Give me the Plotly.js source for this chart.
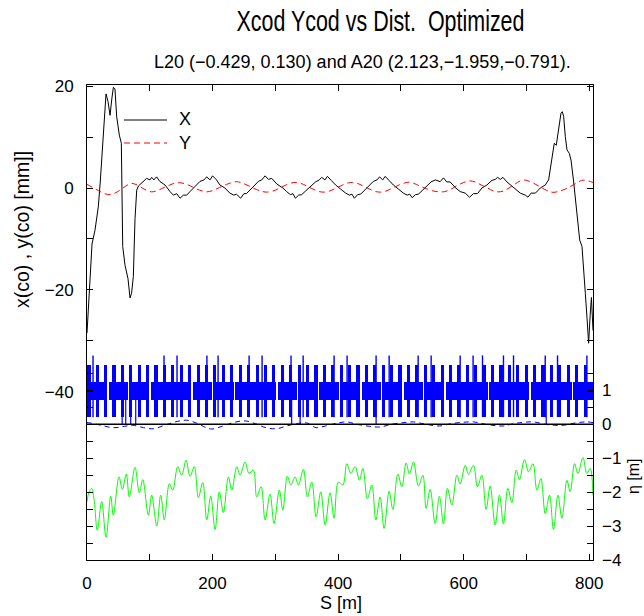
<!DOCTYPE html>
<html><head><meta charset="utf-8">
<script src="https://cdn.plot.ly/plotly-3.0.1.min.js"></script>
<style>html,body{margin:0;padding:0;background:#fff}#plot{width:644px;height:616px}</style>
</head><body><div id="plot"></div>
<script>
// ---- X closed orbit [mm] ----
const xS = [0,1.5,3.7,6,8,12.7,18,21,24,28,30.3,33.5,36.7,39.5,42,44.5,47.3,51.5,54.7,56.9,60.6,65.3,68.5,71,73.8,76.5,79.2,81.9,87,92,95,100.3,103,106.6,110.8,116,124.3,132.3,137.6,142.9,148.2,153.5,158.8,164,172,180,186.4,190.6,196,200,206.4,211.7,219.7,227.6,234,238,244.7,250,254,265,273,278.4,283.7,289,294.3,302.3,307.6,312,318,324,328,332,337,342,348,356,364,370,374,379,383,389,396,404,412,418,422,426,431,436,442,449,456,462,466,471,475,481,488,496,504,510,514,518,523,528,534,541,548,555,562.5,567.8,573,578.4,586.5,594.5,602.5,609.3,615.7,622,629,637,645,650.3,654,658.3,662.5,668.9,676.9,684.9,690.2,698.2,702.5,707.3,714.2,722,730,735.3,739,742.2,744.3,747.5,751.3,755,757.1,759.2,761.9,764.6,768.3,771,775.2,777.9,781.6,784.8,788.5,791.2,793.8,796.5,799,801.5,803.5,806];
const xVal = [-28.5,-25,-19,-13.5,-11,-8.3,-3.7,1,6.5,14,18.5,17,14.3,17.5,19.8,19.5,14,10.4,8.8,-11.5,-15.2,-17.8,-21.6,-20.7,-17.4,-6,-0.4,0.4,1.0,1.5,1.9,1.6,2.1,1.6,2.2,1.3,0.6,-0.7,-1.4,-1.1,-2.0,-1.4,-1.4,-0.7,0.25,1.3,1.6,2.2,1.6,2.4,1.6,0.6,0,-1,-1.4,-1.2,-2.0,-1.1,-1.1,0.4,1.3,1.6,2.4,1.7,1.9,0.8,0.4,0.0,-0.7,-1.3,-1.1,-2.0,-1.4,-1.3,-0.6,0.3,1.2,1.6,2.1,1.6,2.3,1.5,0.6,-0.2,-1.0,-1.4,-1.2,-2.0,-1.3,-1.2,-0.5,0.4,1.3,1.6,2.2,1.6,2.3,1.5,0.6,-0.2,-1.0,-1.4,-1.2,-1.9,-1.3,-1.2,-0.5,0.4,1.2,1.6,1.25,2.0,1.2,1.2,0.1,-0.7,-1.0,-1.8,-1.1,-1.1,0.0,0.6,1.5,1.7,2.1,1.7,2.1,1.2,0.4,-0.4,-1.0,-1.4,-1.8,-1.0,-1.0,0.0,0.6,1.6,4.5,7.5,8.8,8.4,11.4,14.7,15,14.1,10.1,7.5,6.8,5.5,1.2,-2.4,-6.3,-10.2,-11.5,-15.5,-20.7,-25.6,-30.5,-25,-21.5,-28];

// ---- Y closed orbit [mm] ----
const yS = [0,8,18,28,37,46,55,62,70,78,88,96,103,112,121,132,140,148,157,165,175,184,191,200,211,222,230,238,247,258,270,280,287,296,307,317,326,333,341,350,360,370,378,386,397,407,416,423,431,440,450,460,468,476,487,497,506,513,521,530,542,552,562,570,580,590,600,610,618,628,638,648,655,663,672,682,690,696,705,715,725,735,742,750,760,770,780,788,795,806];
const yVal = [0.7,0.2,-0.5,-1.1,-1.3,-0.9,-0.2,0.4,0.9,0.7,0.0,-0.5,-0.75,-0.5,0.0,0.6,0.95,1.05,0.8,0.4,-0.2,-0.6,-0.75,-0.5,0.1,0.7,1.05,1.25,1.0,0.4,-0.3,-0.7,-0.8,-0.6,0.0,0.6,1.0,1.1,0.9,0.4,-0.2,-0.7,-0.8,-0.6,0.0,0.6,1.0,1.1,0.9,0.4,-0.2,-0.7,-0.8,-0.6,0.0,0.6,1.0,1.15,0.9,0.4,-0.2,-0.6,-0.75,-0.7,-0.2,0.5,1.1,1.4,1.2,0.6,0.0,-0.6,-0.75,-0.6,0.0,0.8,1.4,1.6,1.3,0.7,0.0,-0.6,-0.85,-0.7,-0.3,0.3,1.0,1.5,1.5,1.1];

// ---- eta (green) [m] ----
const etaS = [0,3.2,7.5,11.2,16.4,23.4,30.3,37.8,41.9,51.0,56.3,62.6,67.4,76.5,83.3,88.8,97.7,103.1,111.1,117.4,123.2,131.2,136.6,144.5,150.9,157.8,164.1,171.0,177.4,184.4,190.8,197.1,204.0,210.8,217.2,225.2,230.6,238.6,243.8,251.8,258.2,265.0,270.4,277.3,283.7,291.6,298.0,306.4,311.9,319.2,324.6,331.5,336.7,344.7,351.1,358.1,364.9,372.4,379.3,387.2,393.6,400.5,407.5,413.9,420.2,427.1,433.9,439.4,446.7,453.7,460.1,466.9,473.3,481.3,487.2,495.1,501.5,508.4,513.6,520.0,528.0,535.0,540.2,546.6,554.6,561.4,567.8,574.2,581.2,589.2,594.4,602.4,607.6,615.6,622.0,629.0,635.8,642.2,650.2,657.0,663.4,670.4,676.8,683.7,688.9,696.9,703.3,710.3,716.7,723.0,729.9,736.7,743.1,750.1,756.5,764.5,769.7,776.6,782.0,790.0,796.3,801.6,806];
const etaVal = [-2.28,-2.0,-1.89,-2.2,-3.12,-2.28,-3.33,-2.12,-2.68,-1.55,-1.92,-1.47,-2.14,-1.27,-2.02,-1.63,-2.68,-2.09,-3.0,-2.09,-2.82,-1.75,-1.94,-1.25,-1.5,-1.06,-1.53,-1.25,-2.16,-1.72,-2.82,-2.12,-3.1,-1.99,-2.6,-1.55,-1.94,-1.25,-1.5,-1.11,-1.45,-1.35,-2.14,-1.84,-2.82,-2.06,-2.92,-1.94,-2.53,-1.53,-1.79,-1.55,-1.79,-1.33,-2.14,-1.70,-2.73,-1.99,-2.97,-2.02,-2.77,-1.70,-1.79,-1.16,-1.45,-1.25,-1.65,-1.30,-2.19,-1.79,-2.82,-2.14,-3.07,-1.97,-2.51,-1.47,-1.84,-1.14,-1.47,-1.11,-1.82,-1.5,-2.48,-1.92,-2.92,-2.12,-2.94,-1.89,-2.38,-1.5,-1.76,-1.21,-1.47,-1.21,-1.84,-1.5,-2.51,-1.82,-2.97,-2.09,-2.94,-1.89,-2.31,-1.35,-1.63,-1.04,-1.40,-1.16,-1.94,-1.6,-2.63,-2.09,-3.1,-2.09,-2.77,-1.65,-1.99,-1.16,-1.45,-0.98,-1.45,-1.30,-2.09];

// ---- second dispersion-like curve (blue dashed) [m] ----
const eta2S = [0,5,20,42,60,73,90,106,125,145,159,175,190,199,215,235,252,268,285,302,320,337,350,365,380,400,414,430,450,467,485,505,520,540,562,580,600,616,635,650,663,680,697,711,730,745,759,778,796,806];
const eta2Val = [0.05,0.04,-0.02,-0.10,-0.06,-0.03,-0.10,-0.13,-0.02,0.09,0.12,0.03,-0.10,-0.14,-0.06,0.06,0.10,0.02,-0.10,-0.13,-0.04,0.03,0.04,-0.10,-0.05,0.04,0.07,0.0,-0.06,-0.08,0.0,0.05,0.07,0.0,-0.05,0.02,0.06,0.07,0.0,-0.04,-0.05,0.02,0.06,0.07,0.0,-0.03,-0.03,0.04,0.07,0.05];

// ---- lattice elements (S positions in m) ----
const quadS = [3.2,16.5,29.5,43.0,56.3,69.7,83.0,96.2,110.0,123.6,136.8,150.3,163.5,177.0,190.0,203.6,217.0,230.6,244.2,257.6,271.0,284.3,297.7,311.0,324.5,338.0,351.3,364.7,378.0,391.4,404.8,418.3,431.6,445.0,458.4,471.8,485.2,498.6,512.0,525.4,538.8,552.2,565.6,579.0,592.4,605.8,619.2,632.6,646.0,659.4,672.8,686.2,699.6,713.0,726.4,739.8,753.2,766.6,780.0,793.4];
const dipStart = [0.5,34.7,68.2,101.6,135.9,168.5,202,236.2,271.2,304,336.7,369.2,404.2,437.8,470.8,504.2,538.2,571.7,606.2,640.7,674.2,707.2,740.6,774.6];
const dipEnd = [32.3,65.8,99.2,133.5,166.1,199.6,233.8,268.8,301.6,334.3,366.8,401.8,435.4,468.4,501.8,535.8,569.3,603.8,638.3,671.8,704.8,738.2,772.2,805.5];
const sextS = [9.6,122.7,143.4,191,208.8,258.2,278.9,325,344.3,393.6,414.3,460.5,481.3,527.5,548.2,594.4,615,630,663.4,679.4,729.9,749.5,796.3];
const kickS = [56,61.7,69.6,77.6,326,339.5,460.5,731.5];

// ---- axis ticks ----
const xTickVals = [0,100,200,300,400,500,600,700,800];
const xTickText = ['0','','200','','400','','600','','800'];
const yTickVals = [20,10,0,-10,-20,-30,-40];
const yTickText = ['20','','0','','\u221220','','\u221240'];
const etaTickVals = [-4,-3.5,-3,-2.5,-2,-1.5,-1,-0.5,0,0.5,1,1.5];
const etaTickText = ['\u22124','','\u22123','','\u22122','','\u22121','','0','','1',''];

// ---- geometry ----
const W=644,H=616,L=87,R=51,T=85,B=56;
const pw=W-L-R, ph=H-T-B;
const px = x => (x-L)/pw;
const py = y => (H-B-y)/ph;
const F = 'Liberation Sans, Arial, sans-serif';

function segs(arr, y0, y1){
  const xs=[], ys=[];
  arr.forEach(s=>{xs.push(s,s,null); ys.push(y0,y1,null);});
  return {xs, ys};
}
const sx = segs(sextS, 0.21, 2.03);
const kx = segs(kickS, 0.0, 1.24);

const traces = [
  {x:xS, y:xVal, type:'scatter', mode:'lines', line:{color:'#000', width:1}, xaxis:'x', yaxis:'y', hoverinfo:'skip'},
  {x:yS, y:yVal, type:'scatter', mode:'lines', line:{color:'#ff0000', width:1, dash:'6px,4px', shape:'spline'}, xaxis:'x', yaxis:'y', hoverinfo:'skip'},
  {x:dipStart.map((s,i)=>(s+dipEnd[i])/2), y:dipStart.map(()=>0.53), base:0.71, width:dipStart.map((s,i)=>dipEnd[i]-s),
   type:'bar', marker:{color:'#0000ff', line:{width:0}}, xaxis:'x', yaxis:'y2', hoverinfo:'skip'},
  {x:quadS, y:quadS.map(()=>1.53), base:0.21, width:5, type:'bar', marker:{color:'#0000ff', line:{width:0}}, xaxis:'x', yaxis:'y2', hoverinfo:'skip'},
  {x:sx.xs, y:sx.ys, type:'scatter', mode:'lines', line:{color:'#0000ff', width:1.4}, xaxis:'x', yaxis:'y2', hoverinfo:'skip'},
  {x:kx.xs, y:kx.ys, type:'scatter', mode:'lines', line:{color:'#0000ff', width:1.2}, xaxis:'x', yaxis:'y2', hoverinfo:'skip'},
  {x:etaS, y:etaVal, type:'scatter', mode:'lines', line:{color:'#00ff00', width:1, shape:'spline', smoothing:1}, xaxis:'x', yaxis:'y2', hoverinfo:'skip'},
  {x:eta2S, y:eta2Val, type:'scatter', mode:'lines', line:{color:'#0000ff', width:1, dash:'5px,4px', shape:'spline'}, xaxis:'x', yaxis:'y3', hoverinfo:'skip'}
];

const baseAxis = {showgrid:false, zeroline:false, showline:true, linecolor:'#000', linewidth:1,
  ticks:'inside', ticklen:6, tickwidth:1, tickcolor:'#000', tickfont:{family:F, size:17, color:'#000'}, fixedrange:true};

const layout = {
  width:W, height:H, margin:{l:L, r:R, t:T, b:B, pad:0},
  paper_bgcolor:'#fff', plot_bgcolor:'#fff', showlegend:false, hovermode:false, barmode:'overlay', bargap:0,
  xaxis: Object.assign({}, baseAxis, {range:[0,806], tickmode:'array', tickvals:xTickVals, ticktext:xTickText, mirror:'ticks', ticklabelstandoff:8}),
  yaxis: Object.assign({}, baseAxis, {range:[-73.1,20.25], tickmode:'array', tickvals:yTickVals, ticktext:yTickText, mirror:'ticks', ticklabelstandoff:9}),
  yaxis2: Object.assign({}, baseAxis, {overlaying:'y', side:'right', anchor:'x', range:[-4,10], tickmode:'array', tickvals:etaTickVals, ticktext:etaTickText, showline:false, ticklabelstandoff:8}),
  yaxis3: Object.assign({}, baseAxis, {overlaying:'y', side:'left', anchor:'x', range:[-4,10], tickmode:'array', tickvals:etaTickVals, showticklabels:false, showline:false}),
  shapes: [
    {type:'line', xref:'paper', yref:'y2', x0:0, x1:1, y0:0, y1:0, line:{color:'#000', width:1.5}, layer:'above'},
    {type:'line', xref:'paper', yref:'paper', x0:px(124), x1:px(167), y0:py(120), y1:py(120), line:{color:'#000', width:1}},
    {type:'line', xref:'paper', yref:'paper', x0:px(124), x1:px(167), y0:py(143), y1:py(143), line:{color:'#ff0000', width:1, dash:'6px,4px'}}
  ],
  annotations: [
    {text:'Xcod Ycod vs Dist.\u00a0 Optimized', xref:'paper', yref:'paper', x:px(380), y:py(21), xanchor:'center', yanchor:'middle', showarrow:false, font:{family:F, size:30, color:'#000'}},
    {text:'L20 (\u22120.429, 0.130) and A20 (2.123,\u22121.959,\u22120.791).', xref:'paper', yref:'paper', x:px(362), y:py(62), xanchor:'center', yanchor:'middle', showarrow:false, font:{family:F, size:18, color:'#000'}},
    {text:'x(co) , y(co) [mm]]', xref:'paper', yref:'paper', x:px(22), y:py(230), xanchor:'center', yanchor:'middle', textangle:-90, showarrow:false, font:{family:F, size:19.5, color:'#000'}},
    {text:'S [m]', xref:'paper', yref:'paper', x:px(341), y:py(603), xanchor:'center', yanchor:'middle', showarrow:false, font:{family:F, size:18, color:'#000'}},
    {text:'\u03b7 [m]', xref:'paper', yref:'paper', x:px(633), y:py(476), xanchor:'center', yanchor:'middle', textangle:-90, showarrow:false, font:{family:F, size:16, color:'#000'}},
    {text:'X', xref:'paper', yref:'paper', x:px(177), y:py(119), xanchor:'left', yanchor:'middle', showarrow:false, font:{family:F, size:18, color:'#000'}},
    {text:'Y', xref:'paper', yref:'paper', x:px(177), y:py(143), xanchor:'left', yanchor:'middle', showarrow:false, font:{family:F, size:18, color:'#000'}}
  ]
};

Plotly.newPlot('plot', traces, layout, {staticPlot:true, displayModeBar:false}).then(gd => {
  // the reference title is set in a condensed face: compress it horizontally
  const t = gd.querySelectorAll('text.annotation-text')[0];
  if (t) { t.setAttribute('textLength', '288'); t.setAttribute('lengthAdjust', 'spacingAndGlyphs'); }
});
</script></body></html>
